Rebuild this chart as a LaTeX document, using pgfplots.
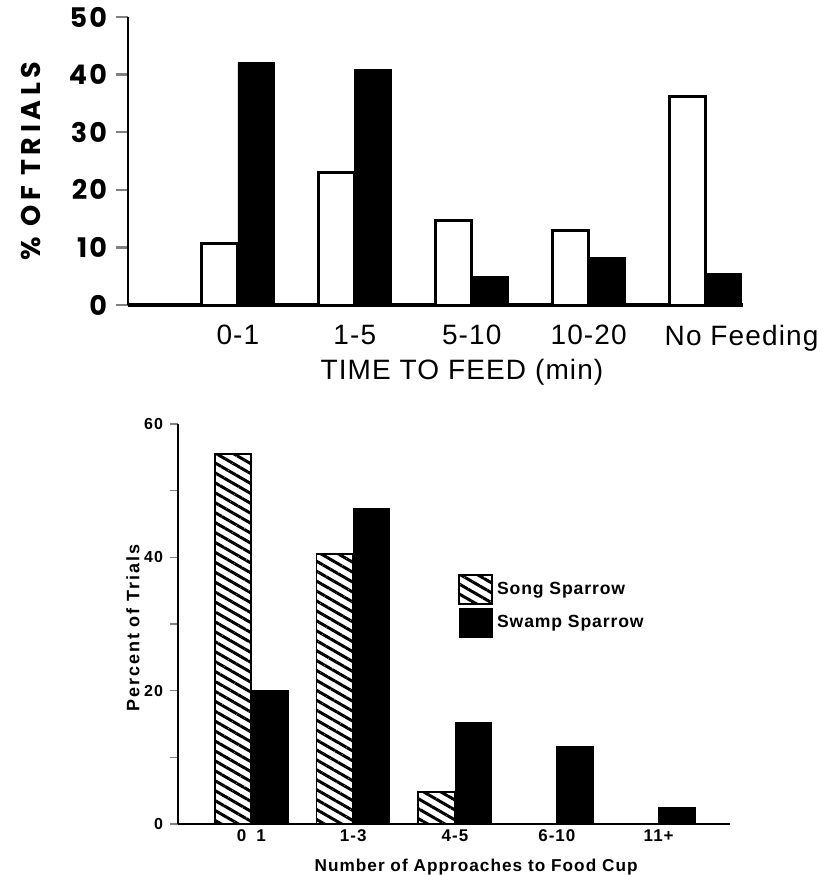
\documentclass[border=0pt]{standalone}
\usepackage{fontspec}
\usepackage{pgfplots}
\pgfplotsset{compat=1.18}
\usetikzlibrary{patterns.meta}
\newfontfamily\popfont[LetterSpace=17]{Poppins}
\newfontfamily\popnum[LetterSpace=8]{Poppins}
\newfontfamily\labfont[LetterSpace=4]{Liberation Sans}
\newfontfamily\hfont[LetterSpace=6]{Liberation Sans}
\newfontfamily\hwide[LetterSpace=11]{Liberation Sans}
\newfontfamily\hleg[LetterSpace=5]{Liberation Sans}

\pgfplotsset{
  sqleg/.style={legend image code/.code={\draw[##1] (0pt,-7.25pt) rectangle (16.5pt,7.25pt);}},
}

\begin{document}
\begin{tikzpicture}
\useasboundingbox (0,0) rectangle (419pt,437.5pt);

% upper panel: time to feed
\begin{axis}[
  at={(64pt,285pt)}, anchor=south west,
  scale only axis, width=307.5pt, height=144pt,
  xmin=0.06, xmax=5.32, ymin=0, ymax=50,
  separate axis lines,
  axis x line*=bottom, axis y line*=left,
  x axis line style={-, line width=2pt},
  y axis line style={-, line width=1.2pt},
  tick align=outside, major tick length=6pt,
  ytick={0,10,...,50}, ytick pos=left,
  xtick={1,2,3,4,5}, xtick pos=bottom,
  xticklabels={0-1,1-5,5-10,10-20,\hspace*{36pt}No Feeding},
  x tick style={draw=none},
  y tick style={line width=1.2pt},
  /pgf/number format/assume math mode=true,
  yticklabel style={font=\popnum\bfseries\fontsize{13.5}{15}\selectfont, xshift=-1pt},
  xticklabel style={font=\labfont\fontsize{14}{16}\selectfont, yshift=-0.5pt},
  ylabel={\% OF TRIALS},
  every axis y label/.style={at={(axis description cs:-0.157,0.5)}, rotate=90, anchor=center,
    font=\popfont\bfseries\fontsize{13.5}{15}\selectfont},
  xlabel={TIME TO FEED (min)},
  every axis x label/.style={at={(axis description cs:0.543,-0.233)}, anchor=center,
    font=\labfont\fontsize{14}{16}\selectfont},
]
\addplot[ybar, bar width=0.31, bar shift=-0.155, fill=white, draw=black, line width=1.5pt]
  coordinates {(1,10.7) (2,23.0) (3,14.6) (4,13.0) (5,36.2)};
\addplot[ybar, bar width=0.31, bar shift=0.155, fill=black, draw=black]
  coordinates {(1,42.1) (2,40.9) (3,4.9) (4,8.3) (5,5.4)};
\end{axis}

% lower panel: approaches to food cup
\begin{axis}[
  at={(89pt,25.5pt)}, anchor=south west,
  scale only axis, width=276pt, height=200pt,
  xmin=0.28, xmax=5.70, ymin=0, ymax=60,
  separate axis lines,
  axis x line*=bottom, axis y line*=left,
  x axis line style={-, line width=1pt},
  y axis line style={-, line width=0.8pt},
  tick align=outside, major tick length=4pt,
  ytick={0,10,...,60}, ytick pos=left,
  yticklabels={0,,20,,40,,60},
  xtick={1,2,3,4,5}, xtick pos=bottom,
  xticklabels={0\hspace{0.6em}1,1-3,4-5,6-10,11+},
  x tick style={draw=none},
  y tick style={line width=0.8pt},
  /pgf/number format/assume math mode=true,
  yticklabel style={font=\hfont\bfseries\fontsize{8}{9}\selectfont},
  xticklabel style={font=\hfont\bfseries\fontsize{8.5}{10}\selectfont, yshift=4.5pt},
  ylabel={Percent of Trials},
  every axis y label/.style={at={(axis description cs:-0.0815,0.49)}, rotate=90, anchor=center,
    font=\hwide\bfseries\fontsize{9}{10}\selectfont},
  xlabel={Number of Approaches to Food Cup},
  every axis x label/.style={at={(axis description cs:0.54,-0.12)}, anchor=base,
    font=\hfont\bfseries\fontsize{8.6}{11}\selectfont},
  legend style={at={(rel axis cs:0.507,0.625)}, anchor=north west, draw=none, fill=none,
    font=\hleg\bfseries\fontsize{8.8}{10}\selectfont, row sep=1.5pt, inner sep=0pt},
  legend cell align=left,
]
\addplot[ybar, bar width=0.36, bar shift=-0.18, draw=black, line width=0.9pt,
  pattern={Lines[angle=-30, distance=4.3pt, line width=1.5pt]}, sqleg]
  coordinates {(1,55.5) (2,40.5) (3,4.8)};
\addlegendentry{Song Sparrow}
\addplot[ybar, bar width=0.36, bar shift=0.18, fill=black, draw=black, sqleg]
  coordinates {(1,20.0) (2,47.4) (3,15.3) (4,11.7) (5,2.5)};
\addlegendentry{Swamp Sparrow}
\end{axis}
\end{tikzpicture}
\end{document}
